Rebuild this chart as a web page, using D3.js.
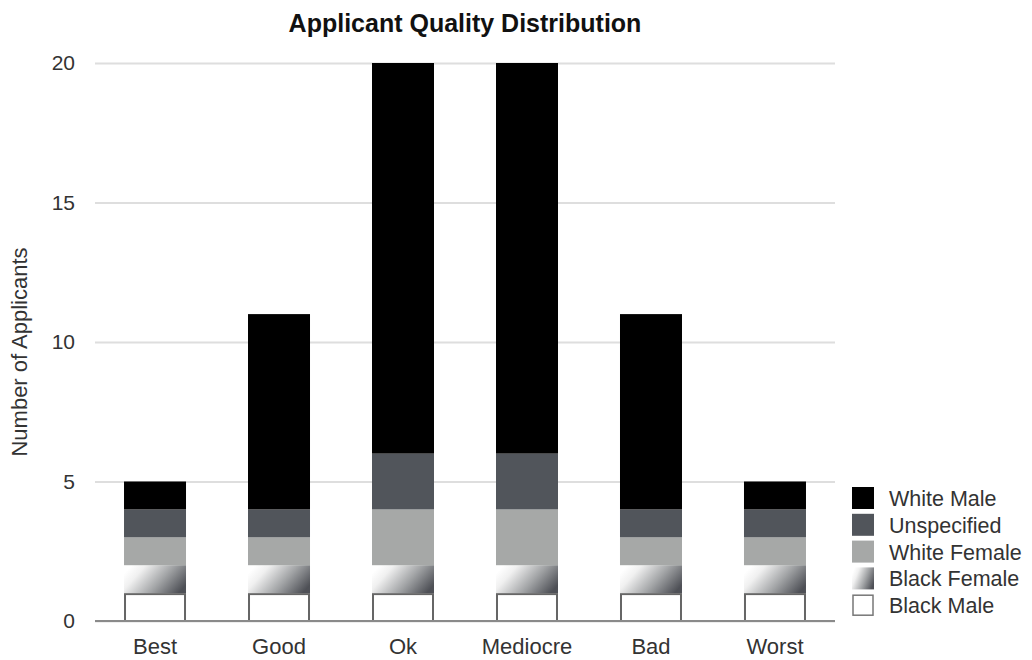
<!DOCTYPE html>
<html>
<head>
<meta charset="utf-8">
<script src="https://cdn.jsdelivr.net/npm/d3@7"></script>
<style>
  html, body { margin: 0; padding: 0; background: #fff; }
  svg { display: block; font-family: "Liberation Sans", Arial, Helvetica, sans-serif; }
</style>
</head>
<body>
<svg id="chart" width="1032" height="660"></svg>
<script>
// Quality ratings along the x axis
const categories = ["Best", "Good", "Ok", "Mediocre", "Bad", "Worst"];

// Applicant counts per group, stacked bottom to top
const blackMale    = [1, 1, 1, 1, 1, 1];
const blackFemale  = [1, 1, 1, 1, 1, 1];
const whiteFemale  = [1, 1, 2, 2, 1, 1];
const unspecified  = [1, 1, 2, 2, 1, 1];
const whiteMale    = [1, 7, 14, 14, 7, 1];

const seriesNames = ["Black Male", "Black Female", "White Female", "Unspecified", "White Male"];
const yTicks = [0, 5, 10, 15, 20];

const seriesValues = [blackMale, blackFemale, whiteFemale, unspecified, whiteMale];
const table = categories.map((c, i) => {
  const row = { category: c };
  seriesNames.forEach((s, k) => { row[s] = seriesValues[k][i]; });
  return row;
});

const svg = d3.select("#chart");
const margin = { left: 95, right: 197, top: 63, bottom: 39 };
const W = 1032, H = 660;

const x = d3.scaleBand()
  .domain(categories)
  .range([margin.left, W - margin.right])
  .paddingInner(0.5)
  .paddingOuter(0.234);

const y = d3.scaleLinear()
  .domain([0, 20])
  .range([H - margin.bottom, margin.top]);

// Gradient fill for the Black Female segments
const defs = svg.append("defs");
const grad = defs.append("linearGradient")
  .attr("id", "bfGrad")
  .attr("x1", "0").attr("y1", "0.3")
  .attr("x2", "1").attr("y2", "0.7");
grad.append("stop").attr("offset", "0").attr("stop-color", "#ffffff");
grad.append("stop").attr("offset", "0.2").attr("stop-color", "#f0f0f0");
grad.append("stop").attr("offset", "0.6").attr("stop-color", "#a2a4a6");
grad.append("stop").attr("offset", "1").attr("stop-color", "#4e5056");

const fills = {
  "Black Male": "#ffffff",
  "Black Female": "url(#bfGrad)",
  "White Female": "#a6a8a7",
  "Unspecified": "#51555b",
  "White Male": "#000000"
};

// Horizontal gridlines and tick labels
const yAxis = d3.axisLeft(y)
  .tickValues(yTicks)
  .tickSize(-(W - margin.left - margin.right))
  .tickPadding(20);
const gy = svg.append("g")
  .attr("transform", `translate(${margin.left},0)`)
  .call(yAxis);
gy.select(".domain").remove();
gy.selectAll(".tick line")
  .attr("stroke", "#dedede")
  .attr("stroke-width", 2);
gy.selectAll(".tick text")
  .attr("fill", "#333")
  .attr("font-family", "\"Liberation Sans\", Arial, sans-serif")
  .attr("font-size", 21);

// Stacked bars
const stack = d3.stack().keys(seriesNames);
const layers = stack(table);

const layerG = svg.append("g")
  .selectAll("g")
  .data(layers)
  .join("g")
  .attr("fill", d => fills[d.key]);

layerG.each(function(layer) {
  const g = d3.select(this);
  const outlined = layer.key === "Black Male";
  g.selectAll("rect")
    .data(layer)
    .join("rect")
    .attr("x", d => x(d.data.category) + (outlined ? 1 : 0))
    .attr("width", x.bandwidth() - (outlined ? 2 : 0))
    .attr("y", d => y(d[1]) + (outlined ? 1 : 0))
    .attr("height", d => y(d[0]) - y(d[1]) - (outlined ? 1 : 0))
    .attr("stroke", outlined ? "#666" : "none")
    .attr("stroke-width", outlined ? 2 : 0);
});

// Category axis with baseline
const xAxis = d3.axisBottom(x).tickSize(0).tickPadding(17);
const gx = svg.append("g")
  .attr("transform", `translate(0,${y(0)})`)
  .call(xAxis);
gx.select(".domain")
  .attr("stroke", "#8a8a8a")
  .attr("stroke-width", 2)
  .attr("d", `M${margin.left},0H${W - margin.right}`);
gx.selectAll(".tick text")
  .attr("fill", "#333")
  .attr("font-family", "\"Liberation Sans\", Arial, sans-serif")
  .attr("font-size", 22);

// Title
svg.append("text")
  .attr("x", 465)
  .attr("y", 32)
  .attr("text-anchor", "middle")
  .attr("font-size", 25)
  .attr("font-weight", "bold")
  .attr("fill", "#111")
  .text("Applicant Quality Distribution");

// Y axis label
svg.append("text")
  .attr("transform", "translate(27,352) rotate(-90)")
  .attr("text-anchor", "middle")
  .attr("font-size", 22)
  .attr("fill", "#333")
  .text("Number of Applicants");

// Legend, top to bottom
const legendOrder = seriesNames.slice().reverse();
const legend = svg.append("g").attr("transform", "translate(852,487)");
const item = legend.selectAll("g")
  .data(legendOrder)
  .join("g")
  .attr("transform", (d, i) => `translate(0,${i * 26.8})`);
item.append("rect")
  .attr("x", d => d === "Black Male" ? 1 : 0)
  .attr("y", d => d === "Black Male" ? 1 : 0)
  .attr("width", d => d === "Black Male" ? 20 : 22)
  .attr("height", d => d === "Black Male" ? 20 : 22)
  .attr("fill", d => fills[d])
  .attr("stroke", d => d === "Black Male" ? "#777" : "none")
  .attr("stroke-width", 1.5);
item.append("text")
  .attr("x", 37)
  .attr("y", 19)
  .attr("font-size", 21.5)
  .attr("fill", "#333")
  .text(d => d);
</script>
</body>
</html>
